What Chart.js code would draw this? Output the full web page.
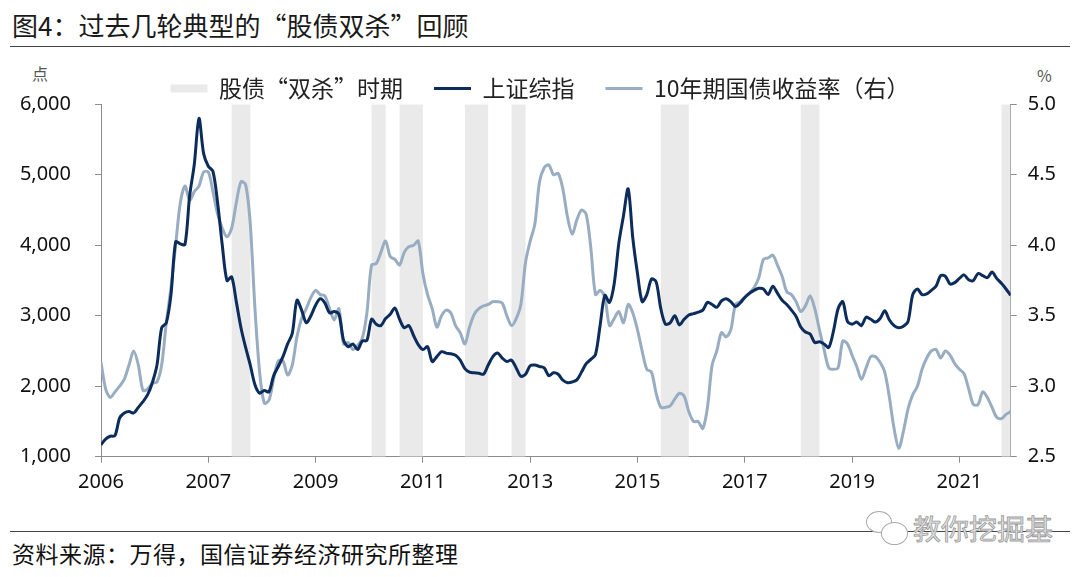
<!DOCTYPE html>
<html>
<head>
<meta charset="utf-8">
<title>过去几轮典型的“股债双杀”回顾</title>
<script src="https://cdn.jsdelivr.net/npm/chart.js@4.4.1/dist/chart.umd.min.js"></script>
<style>
  body { margin: 0; background: #fff; }
  #wrap { position: relative; width: 1080px; height: 577px; overflow: hidden; font-family: 'Noto Sans CJK SC', sans-serif; }
  #title { position: absolute; left: 12px; top: 7px; font-size: 26px; line-height: 36px; color: #1a1a1a; white-space: nowrap; }
  .rule { position: absolute; left: 10px; right: 10px; height: 0; border-top: 1px solid #444; }
  .unit { position: absolute; font-size: 16px; line-height: 22px; color: #555; }
  #source { position: absolute; left: 12px; top: 538px; font-size: 23px; line-height: 30px; letter-spacing: 0.5px; color: #111; white-space: nowrap; }
  #mark { position: absolute; left: 913px; top: 510px; font-size: 28px; line-height: 36px; color: #e4e4e4; -webkit-text-stroke: 0.8px #9a9a9a; white-space: nowrap; }
  .bubble { position: absolute; border: 1.5px solid #aaa; border-radius: 50%; background: #fff; }
  #chart { position: absolute; left: 0; top: 0; }
</style>
</head>
<body>
<div id="wrap">
  <div id="title">图4：过去几轮典型的“股债双杀”回顾</div>
  <div class="rule" style="top:46px"></div>
  <div class="unit" style="left:32px; top:62px">点</div>
  <div class="unit" style="left:1037px; top:64px">%</div>
  <div class="rule" style="top:531px"></div>
  <div id="source">资料来源：万得，国信证券经济研究所整理</div>
  <div class="bubble" style="left:866px; top:511px; width:24px; height:20px"></div>
  <div class="bubble" style="left:881px; top:522px; width:25px; height:21px"></div>
  <div id="mark">教你挖掘基</div>
  <canvas id="chart" width="1080" height="577"></canvas>
</div>
<script>
// monthly points, index 0 = Jan 2006
var sseValues = [
    1170, 1250, 1290, 1300, 1550, 1620, 1640, 1620, 1700, 1780,
    1880, 2050, 2300, 2830, 2900, 3300, 4050, 4020, 4010, 4700,
    5150, 5800, 5300, 5120, 5050, 4600, 4000, 3500, 3550, 3200,
    2830, 2550, 2300, 2020, 1900, 1940, 1920, 2150, 2280, 2420,
    2600, 2750, 3220, 3080, 2900, 3000, 3150, 3240, 3180, 3040,
    3060, 3020, 2650, 2560, 2600, 2520, 2640, 2650, 2950, 2880,
    2860, 2960, 3020, 3110, 2950, 2830, 2860, 2720, 2590, 2520,
    2560, 2350, 2420, 2490, 2470, 2460, 2440, 2370, 2250, 2200,
    2190, 2185, 2170, 2300, 2420, 2470, 2400, 2350, 2370, 2260,
    2140, 2170, 2290, 2300, 2280, 2260, 2150, 2190, 2170, 2085,
    2050, 2060, 2090, 2200, 2320, 2380, 2450, 2870, 3290, 3190,
    3450, 4030, 4420, 4800, 4100, 3600, 3200, 3300, 3520, 3480,
    3100, 2880, 2900, 3000, 2870, 2950, 3010, 3030, 3050, 3080,
    3190, 3160, 3120, 3210, 3240, 3200, 3130, 3180, 3260, 3320,
    3360, 3390, 3380, 3300, 3420, 3320, 3220, 3160, 3080, 2990,
    2840, 2770, 2740, 2620, 2630, 2600, 2550, 2780, 3100, 3200,
    2920, 2880, 2910, 2860, 2980, 2950, 2910, 2960, 3070, 2940,
    2860, 2830, 2850, 2920, 3300, 3380, 3300, 3310, 3360, 3420,
    3570, 3560, 3450, 3470, 3530, 3580, 3510, 3500, 3600, 3570,
    3540, 3620, 3530, 3460, 3380, 3290
];
var bondYields = [
    3.17, 2.98, 2.92, 2.96, 3.00, 3.05, 3.15, 3.25, 3.15, 2.97,
    2.98, 3.02, 3.03, 3.15, 3.45, 3.70, 4.00, 4.30, 4.42, 4.32,
    4.38, 4.42, 4.52, 4.52, 4.38, 4.22, 4.12, 4.06, 4.12, 4.30,
    4.45, 4.43, 4.15, 3.55, 3.10, 2.88, 2.90, 3.05, 3.18, 3.18,
    3.08, 3.15, 3.35, 3.48, 3.55, 3.63, 3.68, 3.65, 3.64, 3.55,
    3.47, 3.55, 3.30, 3.31, 3.26, 3.29, 3.34, 3.52, 3.86, 3.87,
    3.95, 4.03, 3.92, 3.90, 3.86, 3.95, 3.99, 4.00, 4.03, 3.80,
    3.65, 3.55, 3.42, 3.50, 3.54, 3.52, 3.43, 3.38, 3.30, 3.42,
    3.51, 3.55, 3.57, 3.58, 3.60, 3.60, 3.59, 3.50, 3.43, 3.48,
    3.58, 3.88, 4.03, 4.15, 4.45, 4.55, 4.57, 4.50, 4.51, 4.40,
    4.20, 4.08, 4.18, 4.25, 4.22, 3.98, 3.65, 3.68, 3.63, 3.43,
    3.48, 3.53, 3.45, 3.58, 3.52, 3.40, 3.25, 3.12, 3.10, 2.95,
    2.85, 2.85, 2.86, 2.91, 2.95, 2.93, 2.82, 2.75, 2.75, 2.70,
    2.85, 3.15, 3.25, 3.38, 3.35, 3.40, 3.58, 3.60, 3.63, 3.66,
    3.70, 3.77, 3.90, 3.91, 3.93, 3.86, 3.78, 3.67, 3.65, 3.60,
    3.53, 3.57, 3.64, 3.55, 3.40, 3.26, 3.13, 3.12, 3.13, 3.32,
    3.30, 3.22, 3.14, 3.05, 3.13, 3.21, 3.21, 3.17, 3.10, 2.92,
    2.70, 2.56, 2.68, 2.84, 2.94, 3.00, 3.12, 3.20, 3.25, 3.26,
    3.20, 3.25, 3.22, 3.16, 3.12, 3.09, 2.98, 2.87, 2.87, 2.96,
    2.92, 2.85, 2.78, 2.77, 2.80, 2.82
];
// 股债双杀 periods, [start month, end month)
var shadePeriods = [[28, 32], [58, 61], [64, 69], [78, 83], [88, 91], [120, 126], [150, 154], [193, 195]];
var tickMonths = [0, 23, 46, 69, 92, 115, 138, 161, 184];
var tickYears = ['2006', '2007', '2009', '2011', '2013', '2015', '2017', '2019', '2021'];

var AXIS_GREY = '#8c8c8c';
var SSE_COLOR = '#0c2c5c';
var BOND_COLOR = '#98adc2';
var SHADE_COLOR = '#eaeaea';

Chart.defaults.font.family = "'Noto Sans', 'Noto Sans CJK SC', sans-serif";

function toPoints(values) {
    return values.map(function (v, i) { return { x: i, y: v }; });
}

// 1 inside a shaded period, 0 outside (drawn as stepped fill)
function shadePoints() {
    return sseValues.map(function (v, i) {
        var inside = shadePeriods.some(function (p) { return i >= p[0] && i < p[1]; });
        return { x: i, y: inside ? 1 : 0 };
    });
}

var chart = new Chart(document.getElementById('chart'), {
    type: 'line',
    data: {
        datasets: [{
            label: '股债“双杀”时期',
            data: shadePoints(),
            yAxisID: 'yShade',
            stepped: 'before',
            fill: 'start',
            backgroundColor: SHADE_COLOR,
            borderColor: SHADE_COLOR,
            borderWidth: 0,
            pointRadius: 0,
            pointBorderWidth: 0,
            pointStyle: 'rect',
            order: 3
        }, {
            label: '上证综指',
            data: toPoints(sseValues),
            yAxisID: 'y',
            borderColor: SSE_COLOR,
            backgroundColor: SSE_COLOR,
            borderWidth: 3,
            pointRadius: 0,
            pointBorderWidth: 3,
            pointStyle: 'line',
            tension: 0.3,
            order: 1
        }, {
            label: '10年期国债收益率（右）',
            data: toPoints(bondYields),
            yAxisID: 'y2',
            borderColor: BOND_COLOR,
            backgroundColor: BOND_COLOR,
            borderWidth: 3,
            pointRadius: 0,
            pointBorderWidth: 3,
            pointStyle: 'line',
            tension: 0.3,
            order: 2
        }]
    },
    options: {
        responsive: false,
        animation: false,
        layout: { padding: { top: 46, left: 0, right: 0, bottom: 0 } },
        plugins: {
            tooltip: { enabled: false },
            legend: {
                position: 'top',
                maxHeight: 58.3,
                labels: {
                    usePointStyle: true,
                    pointStyleWidth: 37,
                    boxHeight: 8,
                    padding: 31,
                    color: '#222',
                    font: { size: 23, family: "'Noto Sans CJK SC', sans-serif" },
                    sort: function (a, b) { return a.datasetIndex - b.datasetIndex; }
                }
            }
        },
        scales: {
            x: {
                type: 'linear',
                min: 0,
                max: sseValues.length - 1,
                afterBuildTicks: function (scale) {
                    scale.ticks = tickMonths.map(function (v) { return { value: v }; });
                },
                afterFit: function (scale) { scale.height = 120.3; },
                ticks: {
                    autoSkip: false,
                    maxRotation: 0,
                    padding: 8,
                    color: '#111',
                    font: { size: 20 },
                    callback: function (v, i) { return tickYears[i]; }
                },
                grid: { drawOnChartArea: false, drawTicks: true, tickLength: 6, color: AXIS_GREY },
                border: { color: AXIS_GREY, width: 1 }
            },
            y: {
                position: 'left',
                min: 1000,
                max: 6000,
                afterFit: function (scale) { scale.width = 101; },
                ticks: {
                    stepSize: 1000,
                    padding: 24,
                    color: '#111',
                    font: { size: 20 },
                    callback: function (v) { return v.toLocaleString('en-US'); }
                },
                grid: { drawOnChartArea: false, drawTicks: true, tickLength: 6, color: AXIS_GREY },
                border: { color: AXIS_GREY, width: 1 }
            },
            y2: {
                position: 'right',
                min: 2.5,
                max: 5,
                afterFit: function (scale) { scale.width = 69.3; },
                ticks: {
                    stepSize: 0.5,
                    padding: 11,
                    color: '#111',
                    font: { size: 20 },
                    callback: function (v) { return v.toFixed(1); }
                },
                grid: { drawOnChartArea: false, drawTicks: true, tickLength: 6, color: AXIS_GREY },
                border: { color: AXIS_GREY, width: 1 }
            },
            yShade: {
                display: false,
                min: 0,
                max: 1
            }
        }
    }
});
</script>
</body>
</html>
